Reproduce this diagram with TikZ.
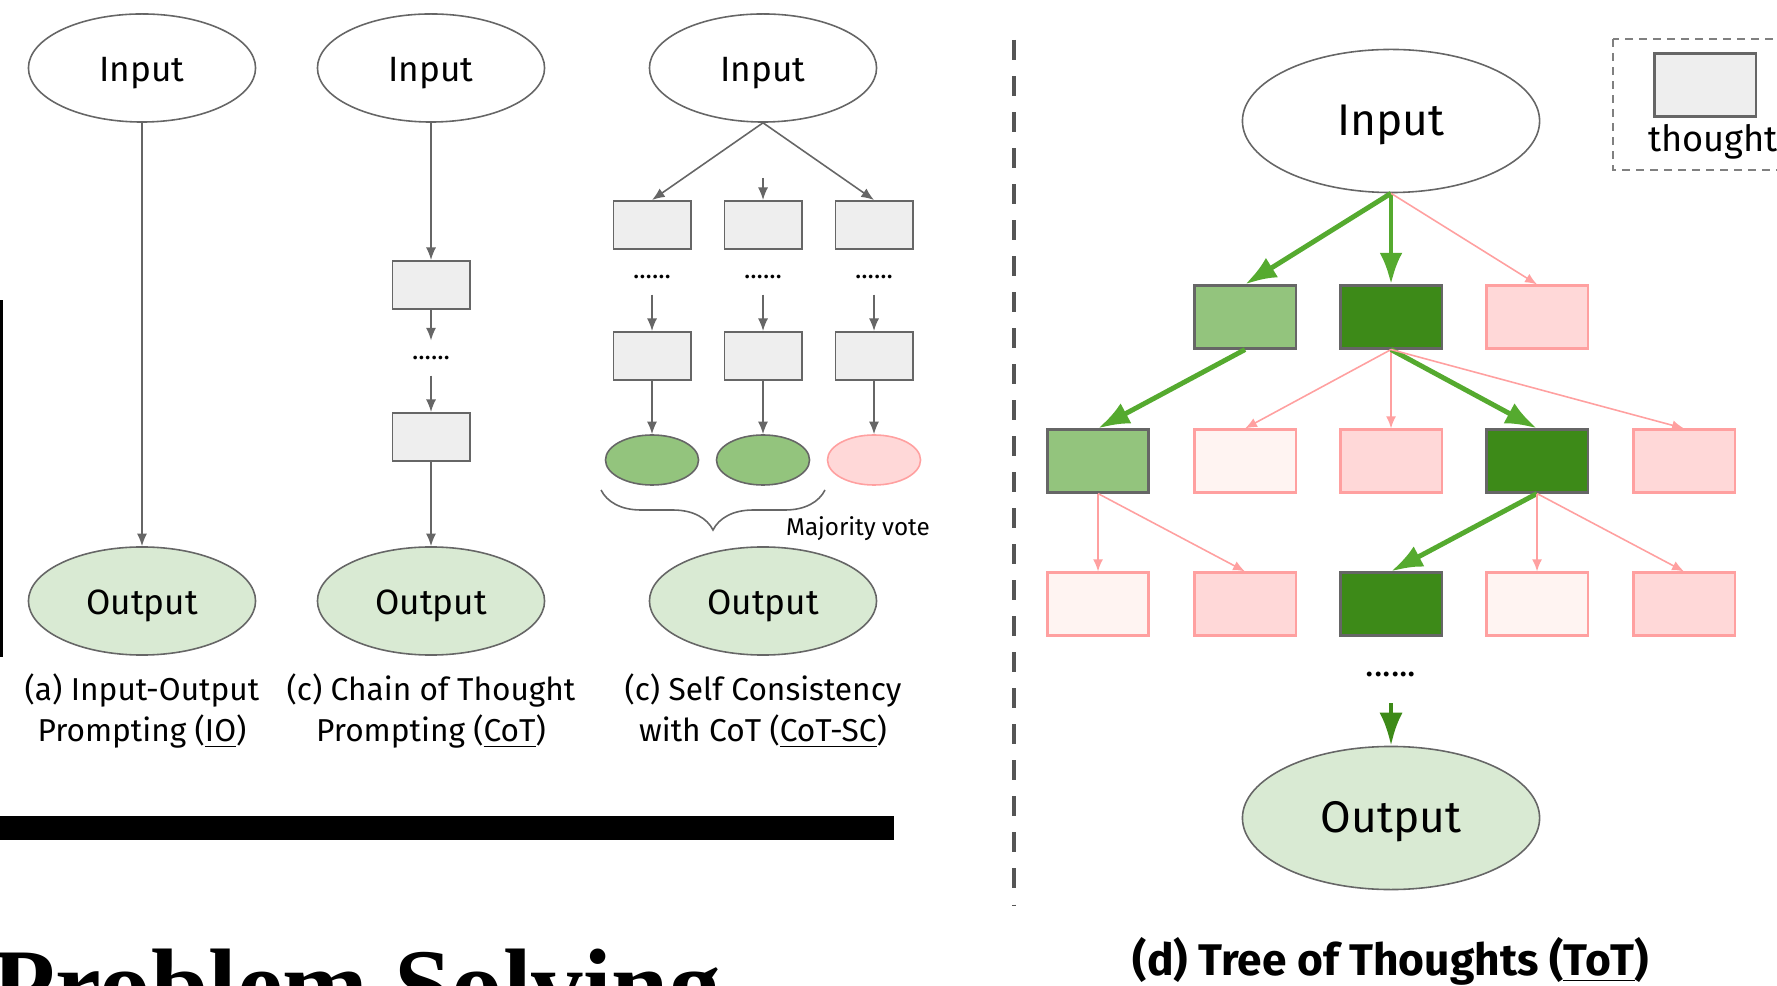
\documentclass[tikz,border=0pt]{standalone}
\usepackage{fontspec}
\setmainfont{Fira Sans}
\newfontfamily\titlefont{Liberation Serif}
\usepackage{xcolor}
\usetikzlibrary{arrows.meta}
\usetikzlibrary{shapes.geometric}
\usetikzlibrary{decorations.pathreplacing}

\definecolor{linegray}{HTML}{666666}
\definecolor{boxgray}{HTML}{EEEEEE}
\definecolor{outgreen}{HTML}{D9EAD3}
\definecolor{lightgreen}{HTML}{93C47D}
\definecolor{darkgreen}{HTML}{3D8A18}
\definecolor{arrowgreen}{HTML}{55AA2F}
\definecolor{pinkfill}{HTML}{FFD8D8}
\definecolor{palepink}{HTML}{FFF4F2}
\definecolor{pinkline}{HTML}{FFA0A0}
\definecolor{sepgray}{HTML}{555555}

\tikzset{
  inellipse/.style={ellipse, draw=linegray, line width=0.45pt, minimum width=2.27cm, minimum height=1.08cm, inner sep=0pt, text height=0.75em, text depth=0pt, font=\fontsize{10}{12}\selectfont},
  outellipse/.style={inellipse, fill=outgreen},
  bigin/.style={inellipse, minimum width=2.97cm, minimum height=1.43cm, text height=0.85em, font=\fontsize{12.6}{15}\selectfont},
  bigout/.style={bigin, fill=outgreen},
  thought/.style={rectangle, draw=linegray, fill=boxgray, line width=0.55pt, minimum width=0.77cm, minimum height=0.48cm, inner sep=0pt},
  answer/.style={ellipse, line width=0.45pt, minimum width=0.93cm, minimum height=0.5cm, inner sep=0pt},
  dotrow/.style={inner xsep=0pt, inner ysep=0.15cm, font=\fontsize{7.5}{8}\selectfont},
  caption/.style={align=center, inner sep=0pt, font=\fontsize{9}{11.7}\selectfont},
  garrow/.style={draw=linegray, line width=0.45pt, -{Latex[length=3.6pt,width=2.9pt]}},
  tbox/.style={rectangle, line width=0.6pt, minimum width=1.01cm, minimum height=0.63cm, inner sep=0pt},
  goodbox/.style={tbox, draw=linegray, fill=lightgreen},
  bestbox/.style={tbox, draw=linegray, fill=darkgreen},
  badbox/.style={tbox, draw=pinkline, fill=pinkfill},
  weakbox/.style={tbox, draw=pinkline, fill=palepink},
  greenarrow/.style={draw=arrowgreen, line width=1.4pt, -{Latex[length=9pt,width=6.5pt]}},
  pinkarrow/.style={draw=pinkline, line width=0.45pt, -{Latex[length=3.4pt,width=2.8pt]}}
}

\begin{document}
\begin{tikzpicture}[x=0.01cm, y=-0.01cm]
\useasboundingbox (0,0) rectangle (1777,986);

% leftovers of the page around the figure
\fill (0,300) rectangle (2.5,657);
\fill (0,816) rectangle (894,840);
\node[anchor=base west, inner sep=0pt, font=\titlefont\bfseries\fontsize{29.3}{30}\selectfont] (ps) at (-8,1020) {Problem Solving};

% (a) IO
\node[inellipse] (ain) at (142,68) {Input};
\node[outellipse] (aout) at (142,601) {Output};
\draw[garrow] (ain) -- (aout);
\node[caption] (acap) at (142,711) {(a) Input-Output\\Prompting (\underline{IO})};

% (b) CoT
\node[inellipse] (bin) at (431,68) {Input};
\node[thought] (b1) at (431,285) {};
\node[dotrow] (bdots) at (431,358) {......};
\node[thought] (b2) at (431,437) {};
\node[outellipse] (bout) at (431,601) {Output};
\draw[garrow] (bin) -- (b1);
\draw[garrow] (b1) -- (bdots);
\draw[garrow] (bdots) -- (b2);
\draw[garrow] (b2) -- (bout);
\node[caption] (bcap) at (431,711) {(c) Chain of Thought\\Prompting (\underline{CoT})};

% (c) CoT-SC
\node[inellipse] (cin) at (763,68) {Input};
\node[thought] (c11) at (652,225) {};
\node[thought] (c12) at (763,225) {};
\node[thought] (c13) at (874,225) {};
\node[dotrow] (cd1) at (652,277) {......};
\node[dotrow] (cd2) at (763,277) {......};
\node[dotrow] (cd3) at (874,277) {......};
\node[thought] (c21) at (652,356) {};
\node[thought] (c22) at (763,356) {};
\node[thought] (c23) at (874,356) {};
\node[answer, draw=linegray, fill=lightgreen] (ca1) at (652,460) {};
\node[answer, draw=linegray, fill=lightgreen] (ca2) at (763,460) {};
\node[answer, draw=pinkline, fill=pinkfill] (ca3) at (874,460) {};
\coordinate (cmid) at (763,178);
\draw[garrow] (cin.south) -- (c11.north);
\draw[garrow] (cmid) -- (c12);
\draw[garrow] (cin.south) -- (c13.north);
\draw[garrow] (cd1) -- (c21);
\draw[garrow] (cd2) -- (c22);
\draw[garrow] (cd3) -- (c23);
\draw[garrow] (c21) -- (ca1);
\draw[garrow] (c22) -- (ca2);
\draw[garrow] (c23) -- (ca3);
\draw[linegray, line width=0.45pt, decorate, decoration={brace, mirror, amplitude=0.4cm}] (601,490) -- (825,490);
\node[font=\fontsize{6.9}{8}\selectfont] (vote) at (858,529) {Majority vote};
\node[outellipse] (cout) at (763,601) {Output};
\node[caption] (ccap) at (763,711) {(c) Self Consistency\\with CoT (\underline{CoT-SC})};

% separator
\draw[sepgray, line width=0.04cm, dash pattern=on 0.2cm off 0.16cm] (1014,40) -- (1014,905);

% legend
\draw[gray, line width=0.02cm, dash pattern=on 0.08cm off 0.06cm] (1613,39) rectangle (1800,170);
\node[tbox, draw=linegray, fill=boxgray] (leg) at (1705,85) {};
\node[font=\fontsize{10.3}{12}\selectfont] (legtext) at (1713,142) {thought};

% (d) ToT
\node[bigin] (din) at (1391,121) {Input};
\node[goodbox] (d11) at (1245,317) {};
\node[bestbox] (d12) at (1391,317) {};
\node[badbox] (d13) at (1537,317) {};
\node[goodbox] (d21) at (1098,461) {};
\node[weakbox] (d22) at (1245,461) {};
\node[badbox] (d23) at (1391,461) {};
\node[bestbox] (d24) at (1537,461) {};
\node[badbox] (d25) at (1684,461) {};
\node[weakbox] (d31) at (1098,604) {};
\node[badbox] (d32) at (1245,604) {};
\node[bestbox] (d33) at (1391,604) {};
\node[weakbox] (d34) at (1537,604) {};
\node[badbox] (d35) at (1684,604) {};
\draw[greenarrow] (din.south) -- (d11.north);
\draw[greenarrow] (din.south) -- (d12.north);
\draw[pinkarrow] (din.south) -- (d13.north);
\draw[greenarrow] (d11.south) -- (d21.north);
\draw[pinkarrow] (d12.south) -- (d22.north);
\draw[pinkarrow] (d12.south) -- (d23.north);
\draw[greenarrow] (d12.south) -- (d24.north);
\draw[pinkarrow] (d12.south) -- (d25.north);
\draw[pinkarrow] (d21.south) -- (d31.north);
\draw[pinkarrow] (d21.south) -- (d32.north);
\draw[greenarrow] (d24.south) -- (d33.north);
\draw[pinkarrow] (d24.south) -- (d34.north);
\draw[pinkarrow] (d24.south) -- (d35.north);
\node[dotrow, font=\fontsize{10}{10}\selectfont] (ddots) at (1391,674) {......};
\coordinate (dgo) at (1391,703);
\node[bigout] (dout) at (1391,818) {Output};
\draw[draw=darkgreen, line width=1.4pt, -{Latex[length=9.4pt,width=6.6pt]}] (dgo) -- (dout);
\node[font=\bfseries\fontsize{12.6}{15}\selectfont] (dcap) at (1391,961) {(d) Tree of Thoughts (\underline{ToT})};
\end{tikzpicture}
\end{document}
